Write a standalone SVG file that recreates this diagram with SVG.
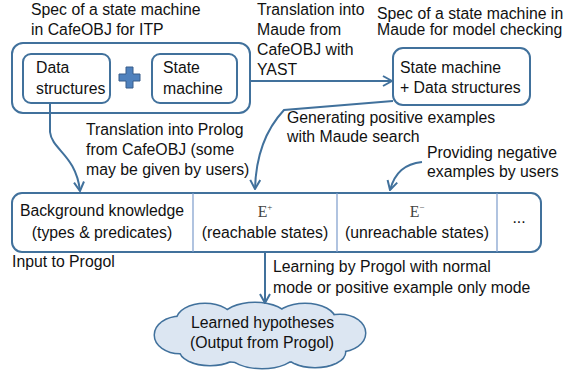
<svg xmlns="http://www.w3.org/2000/svg" width="567" height="374" viewBox="0 0 567 374">
<style>
text{font-family:"Liberation Sans",Arial,sans-serif;font-size:15.8px;fill:#111}
.serif{font-family:"Liberation Serif","Times New Roman",serif;fill:#444}
.box{fill:#fff;stroke:#41719C;stroke-width:2}
.div{stroke:#7C9CCB;stroke-width:1.2}
.conn{fill:none;stroke:#41719C;stroke-width:2}
.c{text-anchor:middle}
.cloud ellipse{fill:#DCE6F2}
</style>
<defs>
<marker id="arr" markerUnits="userSpaceOnUse" viewBox="0 0 12 12" markerWidth="12" markerHeight="12" refX="11" refY="6" orient="auto">
<path d="M2,1 L11,6 L2,11" fill="none" stroke="#41719C" stroke-width="2"/>
</marker>
</defs>
<rect width="567" height="374" fill="#fff"/>

<g id="cafeobj-spec">
<text x="31" y="15">Spec of a state machine</text>
<text x="31" y="35">in CafeOBJ for ITP</text>
<rect class="box" x="12" y="43" width="238" height="70" rx="11"/>
<g id="data-structures">
<rect class="box" x="23" y="54" width="87" height="49" rx="8"/>
<text x="36" y="73">Data</text>
<text x="36" y="94">structures</text>
</g>
<g id="plus">
<path d="M126,67 h7 v7 h7 v7 h-7 v7 h-7 v-7 h-7 v-7 h7 z" fill="#4F81BD" stroke="#385D8A" stroke-width="1"/>
</g>
<g id="state-machine">
<rect class="box" x="152" y="54" width="85" height="49" rx="8"/>
<text x="163" y="73">State</text>
<text x="163" y="94">machine</text>
</g>
</g>

<g id="maude-spec">
<text x="377" y="19">Spec of a state machine in</text>
<text x="377" y="35">Maude for model checking</text>
<rect class="box" x="393" y="48" width="137" height="57" rx="10"/>
<text x="400" y="73">State machine</text>
<text x="400" y="93">+ Data structures</text>
</g>

<g id="input">
<rect class="box" x="12" y="193" width="529" height="59" rx="10"/>
<line class="div" x1="193" y1="193" x2="193" y2="252"/>
<line class="div" x1="337" y1="193" x2="337" y2="252"/>
<line class="div" x1="497" y1="193" x2="497" y2="252"/>
<text class="c" x="102" y="216">Background knowledge</text>
<text class="c" x="102" y="238">(types &amp; predicates)</text>
<text class="serif c" x="265" y="217" font-size="16">E<tspan font-size="9" dy="-7">+</tspan></text>
<text class="c" x="265" y="238">(reachable states)</text>
<text class="serif c" x="417" y="217" font-size="16">E<tspan font-size="9" dy="-7">−</tspan></text>
<text class="c" x="417" y="238">(unreachable states)</text>
<text class="c" x="519" y="223">...</text>
<text x="12" y="267">Input to Progol</text>
</g>

<g id="hypotheses" class="cloud">
<g stroke="#41719C" stroke-width="3">
<ellipse cx="260" cy="337" rx="85" ry="26"/>
<ellipse cx="180" cy="335" rx="25" ry="18"/>
<ellipse cx="205" cy="320" rx="28" ry="16"/>
<ellipse cx="255" cy="318" rx="32" ry="15"/>
<ellipse cx="305" cy="320" rx="30" ry="16"/>
<ellipse cx="340" cy="333" rx="25" ry="18"/>
<ellipse cx="315" cy="352" rx="30" ry="15"/>
<ellipse cx="262" cy="354" rx="32" ry="14"/>
<ellipse cx="210" cy="350" rx="30" ry="15"/>
</g>
<g>
<ellipse cx="260" cy="337" rx="85" ry="26"/>
<ellipse cx="180" cy="335" rx="25" ry="18"/>
<ellipse cx="205" cy="320" rx="28" ry="16"/>
<ellipse cx="255" cy="318" rx="32" ry="15"/>
<ellipse cx="305" cy="320" rx="30" ry="16"/>
<ellipse cx="340" cy="333" rx="25" ry="18"/>
<ellipse cx="315" cy="352" rx="30" ry="15"/>
<ellipse cx="262" cy="354" rx="32" ry="14"/>
<ellipse cx="210" cy="350" rx="30" ry="15"/>
</g>
<text x="191" y="328">Learned hypotheses</text>
<text x="190" y="348">(Output from Progol)</text>
</g>

<g id="connectors">
<path class="conn" marker-end="url(#arr)" d="M250,81 H392"/>
<path class="conn" marker-end="url(#arr)" d="M50,103 V132 C52,150 76,155 80,191"/>
<path class="conn" marker-end="url(#arr)" d="M393,101 L284,110 C270,125 256,150 255,189"/>
<path class="conn" marker-end="url(#arr)" d="M422,162 C405,164 395,172 390,190"/>
<path class="conn" marker-end="url(#arr)" d="M265,252 V303"/>
<text x="257" y="15">Translation into</text>
<text x="257" y="35">Maude from</text>
<text x="257" y="55">CafeOBJ with</text>
<text x="257" y="75">YAST</text>
<text x="86" y="135">Translation into Prolog</text>
<text x="86" y="155">from CafeOBJ (some</text>
<text x="86" y="175">may be given by users)</text>
<text x="287" y="123">Generating positive examples</text>
<text x="287" y="142">with Maude search</text>
<text x="427" y="158">Providing negative</text>
<text x="427" y="177">examples by users</text>
<text x="273" y="272">Learning by Progol with normal</text>
<text x="273" y="293">mode or positive example only mode</text>
</g>
</svg>
